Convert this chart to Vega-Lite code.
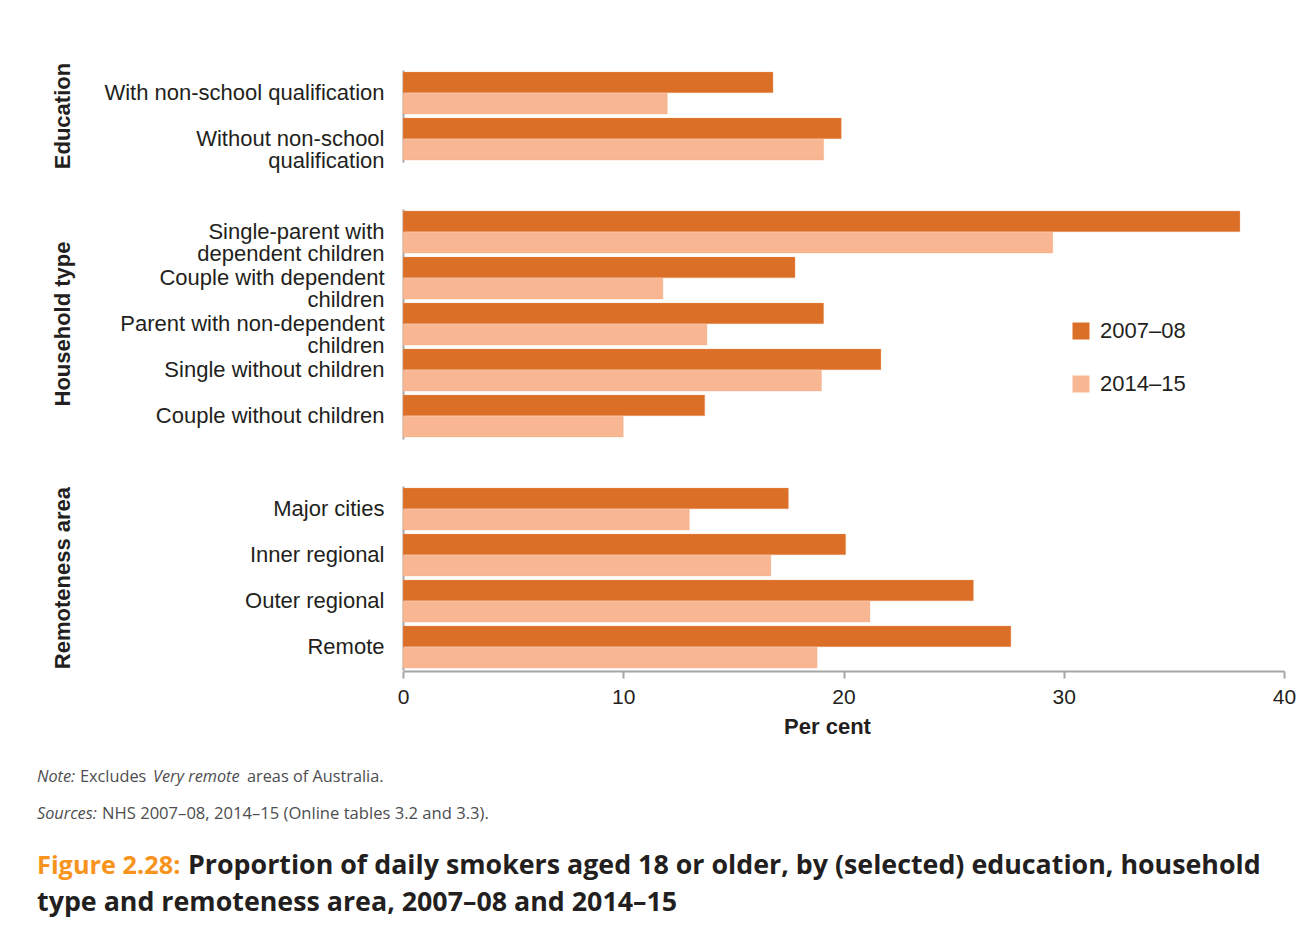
{
  "$schema": "https://vega.github.io/schema/vega-lite/v6.json",
  "background": "white",
  "padding": {"left": 37, "top": 62, "right": 5, "bottom": 5},
  "bounds": "flush",
  "spacing": 675,
  "config": {
    "view": {"stroke": null},
    "font": "Liberation Sans"
  },
  "datasets": {
    "smokers": [
      {"group": "Education", "category": "With non-school qualification", "year": "2007–08", "value": 16.8},
      {"group": "Education", "category": "With non-school qualification", "year": "2014–15", "value": 12.0},
      {"group": "Education", "category": "Without non-school\nqualification", "year": "2007–08", "value": 19.9},
      {"group": "Education", "category": "Without non-school\nqualification", "year": "2014–15", "value": 19.1},
      {"group": "Household type", "category": "Single-parent with\ndependent children", "year": "2007–08", "value": 38.0},
      {"group": "Household type", "category": "Single-parent with\ndependent children", "year": "2014–15", "value": 29.5},
      {"group": "Household type", "category": "Couple with dependent\nchildren", "year": "2007–08", "value": 17.8},
      {"group": "Household type", "category": "Couple with dependent\nchildren", "year": "2014–15", "value": 11.8},
      {"group": "Household type", "category": "Parent with non-dependent\nchildren", "year": "2007–08", "value": 19.1},
      {"group": "Household type", "category": "Parent with non-dependent\nchildren", "year": "2014–15", "value": 13.8},
      {"group": "Household type", "category": "Single without children", "year": "2007–08", "value": 21.7},
      {"group": "Household type", "category": "Single without children", "year": "2014–15", "value": 19.0},
      {"group": "Household type", "category": "Couple without children", "year": "2007–08", "value": 13.7},
      {"group": "Household type", "category": "Couple without children", "year": "2014–15", "value": 10.0},
      {"group": "Remoteness area", "category": "Major cities", "year": "2007–08", "value": 17.5},
      {"group": "Remoteness area", "category": "Major cities", "year": "2014–15", "value": 13.0},
      {"group": "Remoteness area", "category": "Inner regional", "year": "2007–08", "value": 20.1},
      {"group": "Remoteness area", "category": "Inner regional", "year": "2014–15", "value": 16.7},
      {"group": "Remoteness area", "category": "Outer regional", "year": "2007–08", "value": 25.9},
      {"group": "Remoteness area", "category": "Outer regional", "year": "2014–15", "value": 21.2},
      {"group": "Remoteness area", "category": "Remote", "year": "2007–08", "value": 27.6},
      {"group": "Remoteness area", "category": "Remote", "year": "2014–15", "value": 18.8}
    ],
    "notes": [
      {"part": "note_label", "text": "Note:"},
      {"part": "note_a", "text": "Excludes"},
      {"part": "note_b", "text": "Very remote"},
      {"part": "note_c", "text": "areas of Australia."},
      {"part": "src_label", "text": "Sources:"},
      {"part": "src_text", "text": "NHS 2007–08, 2014–15 (Online tables 3.2 and 3.3)."},
      {"part": "fig", "text": "Figure 2.28:"},
      {"part": "cap1", "text": "Proportion of daily smokers aged 18 or older, by (selected) education, household"},
      {"part": "cap2", "text": "type and remoteness area, 2007–08 and 2014–15"}
    ]
  },
  "vconcat": [
    {
      "data": {"name": "smokers"},
      "facet": {
        "row": {
          "field": "group",
          "type": "nominal",
          "sort": ["Education", "Household type", "Remoteness area"],
          "header": {
            "title": null,
            "labelAngle": -90,
            "labelOrient": "left",
            "labelFontSize": 22,
            "labelFontWeight": "bold",
            "labelColor": "#231F20",
            "labelFont": "Liberation Sans",
            "labelPadding": 318
          }
        }
      },
      "spacing": 46,
      "bounds": "flush",
      "resolve": {"scale": {"y": "independent"}},
      "spec": {
        "width": 881,
        "height": {"step": 21.2, "for": "offset"},
        "mark": {"type": "bar", "stroke": "#F3A57A", "strokeWidth": 0.6, "strokeOpacity": 0.5},
        "encoding": {
          "y": {
            "field": "category",
            "type": "nominal",
            "sort": null,
            "scale": {"paddingInner": 0.087, "paddingOuter": 0.045},
            "axis": {
              "title": null,
              "ticks": false,
              "tickSize": 0,
              "labelPadding": 19,
              "labelFontSize": 22,
              "labelFont": "Liberation Sans",
              "labelColor": "#231F20",
              "labelLineHeight": 22,
              "labelLimit": 400,
              "domainColor": "#A6A6A6",
              "domainWidth": 2,
              "labelExpr": "split(datum.label, '\\n')"
            }
          },
          "yOffset": {
            "field": "year",
            "type": "nominal",
            "sort": ["2007–08", "2014–15"],
            "scale": {"paddingInner": 0.02}
          },
          "x": {
            "field": "value",
            "type": "quantitative",
            "scale": {"domain": [0, 40]},
            "axis": {
              "title": "Per cent",
              "titleFontSize": 22,
              "titleFontWeight": "bold",
              "titleFont": "Liberation Sans",
              "titleColor": "#231F20",
              "titlePadding": 9,
              "titleX": 424,
              "values": [0, 10, 20, 30, 40],
              "grid": false,
              "labelFlush": false,
              "labelFontSize": 21,
              "labelFont": "Liberation Sans",
              "labelColor": "#231F20",
              "labelPadding": 8,
              "tickSize": 7,
              "tickWidth": 2,
              "tickColor": "#A6A6A6",
              "domainColor": "#A6A6A6",
              "domainWidth": 2
            }
          },
          "color": {
            "field": "year",
            "type": "nominal",
            "sort": ["2007–08", "2014–15"],
            "scale": {"range": ["#DC6F27", "#F8B692"]},
            "legend": {
              "title": null,
              "orient": "none",
              "legendX": 667,
              "legendY": 250,
              "symbolType": "square",
              "symbolSize": 289,
              "symbolStrokeWidth": 0,
              "labelFontSize": 22,
              "labelFont": "Liberation Sans",
              "labelColor": "#231F20",
              "labelOffset": 8,
              "rowPadding": 31
            }
          }
        }
      }
    },
    {
      "width": 881,
      "height": 170,
      "data": {"name": "notes"},
      "layer": [
        {
          "transform": [{"filter": "datum.part === 'note_label'"}],
          "mark": {"type": "text", "align": "left", "baseline": "alphabetic", "font": "Open Sans", "fontSize": 16.3, "fontStyle": "italic", "color": "#4D4D4F"},
          "encoding": {"x": {"value": -366}, "y": {"value": 37}, "text": {"field": "text"}}
        },
        {
          "transform": [{"filter": "datum.part === 'note_a'"}],
          "mark": {"type": "text", "align": "left", "baseline": "alphabetic", "font": "Open Sans", "fontSize": 16.3, "color": "#4D4D4F"},
          "encoding": {"x": {"value": -323}, "y": {"value": 37}, "text": {"field": "text"}}
        },
        {
          "transform": [{"filter": "datum.part === 'note_b'"}],
          "mark": {"type": "text", "align": "left", "baseline": "alphabetic", "font": "Open Sans", "fontSize": 16.3, "fontStyle": "italic", "color": "#4D4D4F"},
          "encoding": {"x": {"value": -250}, "y": {"value": 37}, "text": {"field": "text"}}
        },
        {
          "transform": [{"filter": "datum.part === 'note_c'"}],
          "mark": {"type": "text", "align": "left", "baseline": "alphabetic", "font": "Open Sans", "fontSize": 16.3, "color": "#4D4D4F"},
          "encoding": {"x": {"value": -156}, "y": {"value": 37}, "text": {"field": "text"}}
        },
        {
          "transform": [{"filter": "datum.part === 'src_label'"}],
          "mark": {"type": "text", "align": "left", "baseline": "alphabetic", "font": "Open Sans", "fontSize": 16.3, "fontStyle": "italic", "color": "#4D4D4F"},
          "encoding": {"x": {"value": -366}, "y": {"value": 74}, "text": {"field": "text"}}
        },
        {
          "transform": [{"filter": "datum.part === 'src_text'"}],
          "mark": {"type": "text", "align": "left", "baseline": "alphabetic", "font": "Open Sans", "fontSize": 16.6, "color": "#4D4D4F"},
          "encoding": {"x": {"value": -301}, "y": {"value": 74}, "text": {"field": "text"}}
        },
        {
          "transform": [{"filter": "datum.part === 'fig'"}],
          "mark": {"type": "text", "align": "left", "baseline": "alphabetic", "font": "Open Sans", "fontSize": 25.3, "fontWeight": "bold", "color": "#F7941D"},
          "encoding": {"x": {"value": -366}, "y": {"value": 129}, "text": {"field": "text"}}
        },
        {
          "transform": [{"filter": "datum.part === 'cap1'"}],
          "mark": {"type": "text", "align": "left", "baseline": "alphabetic", "font": "Open Sans", "fontSize": 26.8, "fontWeight": "bold", "color": "#231F20"},
          "encoding": {"x": {"value": -215}, "y": {"value": 129}, "text": {"field": "text"}}
        },
        {
          "transform": [{"filter": "datum.part === 'cap2'"}],
          "mark": {"type": "text", "align": "left", "baseline": "alphabetic", "font": "Open Sans", "fontSize": 26.8, "fontWeight": "bold", "color": "#231F20"},
          "encoding": {"x": {"value": -366}, "y": {"value": 166}, "text": {"field": "text"}}
        }
      ]
    }
  ]
}
